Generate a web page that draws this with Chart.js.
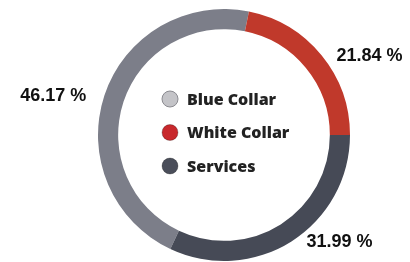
<!DOCTYPE html>
<html>
<head>
<meta charset="utf-8">
<script src="https://cdn.jsdelivr.net/npm/chart.js@4"></script>
<style>
  body { margin: 0; background: #fff; }
  #wrap { width: 410px; height: 262px; }
</style>
</head>
<body>
<div id="wrap"><canvas id="myChart" width="410" height="262"></canvas></div>
<script>
// data
const categories = ['Blue Collar', 'White Collar', 'Services'];
const shares = [46.17, 21.84, 31.99];
const pctLabels = ['46.17 %', '21.84 %', '31.99 %'];
const ringColors = ['#7c7e89', '#c0392b', '#464a56'];
const dotColors = ['#c4c4c8', '#c8282c', '#4a4e5a'];

// percent labels just outside each arc, pushed sideways
const outsideLabels = {
  id: 'outsideLabels',
  afterDatasetsDraw(chart) {
    const ctx = chart.ctx;
    const arcs = chart.getDatasetMeta(0).data;
    ctx.save();
    ctx.font = 'bold 18px "Liberation Sans", Arial, sans-serif';
    ctx.fillStyle = '#111';
    ctx.textBaseline = 'middle';
    arcs.forEach((arc, i) => {
      const p = arc.getProps(['x', 'y', 'startAngle', 'endAngle', 'outerRadius'], true);
      const mid = (p.startAngle + p.endAngle) / 2;
      const ox = p.x + Math.cos(mid) * p.outerRadius;
      const oy = p.y + Math.sin(mid) * p.outerRadius;
      const right = Math.cos(mid) >= 0;
      ctx.textAlign = right ? 'left' : 'right';
      ctx.fillText(pctLabels[i], ox + (right ? 15 : -18), oy + 1);
    });
    ctx.restore();
  }
};

// legend drawn in the hole
const centerLegend = {
  id: 'centerLegend',
  afterDraw(chart) {
    const ctx = chart.ctx;
    const arc = chart.getDatasetMeta(0).data[0];
    const cx = arc.x, cy = arc.y;
    ctx.save();
    ctx.font = '800 16px "Open Sans", sans-serif';
    ctx.textBaseline = 'middle';
    ctx.textAlign = 'left';
    categories.forEach((name, i) => {
      const y = cy - 36 + i * 33.5;
      ctx.beginPath();
      ctx.arc(cx - 54, y, 8, 0, Math.PI * 2);
      ctx.fillStyle = dotColors[i];
      ctx.fill();
      ctx.lineWidth = 1;
      ctx.strokeStyle = i === 0 ? '#8a8a90' : 'rgba(0,0,0,0.25)';
      ctx.stroke();
      ctx.fillStyle = '#222';
      ctx.fillText(name, cx - 37, y + 1);
    });
    ctx.restore();
  }
};

var ctx = document.getElementById('myChart').getContext('2d');
var chart = new Chart(ctx, {
  type: 'doughnut',
  data: {
    labels: categories,
    datasets: [{
      data: shares,
      backgroundColor: ringColors,
      borderWidth: 0
    }]
  },
  options: {
    responsive: false,
    animation: false,
    cutout: '84%',
    rotation: 205.2,
    layout: { padding: { left: 38, right: 0, top: 9, bottom: 1 } },
    plugins: {
      legend: { display: false },
      tooltip: { enabled: false }
    }
  },
  plugins: [outsideLabels, centerLegend]
});
</script>
</body>
</html>
